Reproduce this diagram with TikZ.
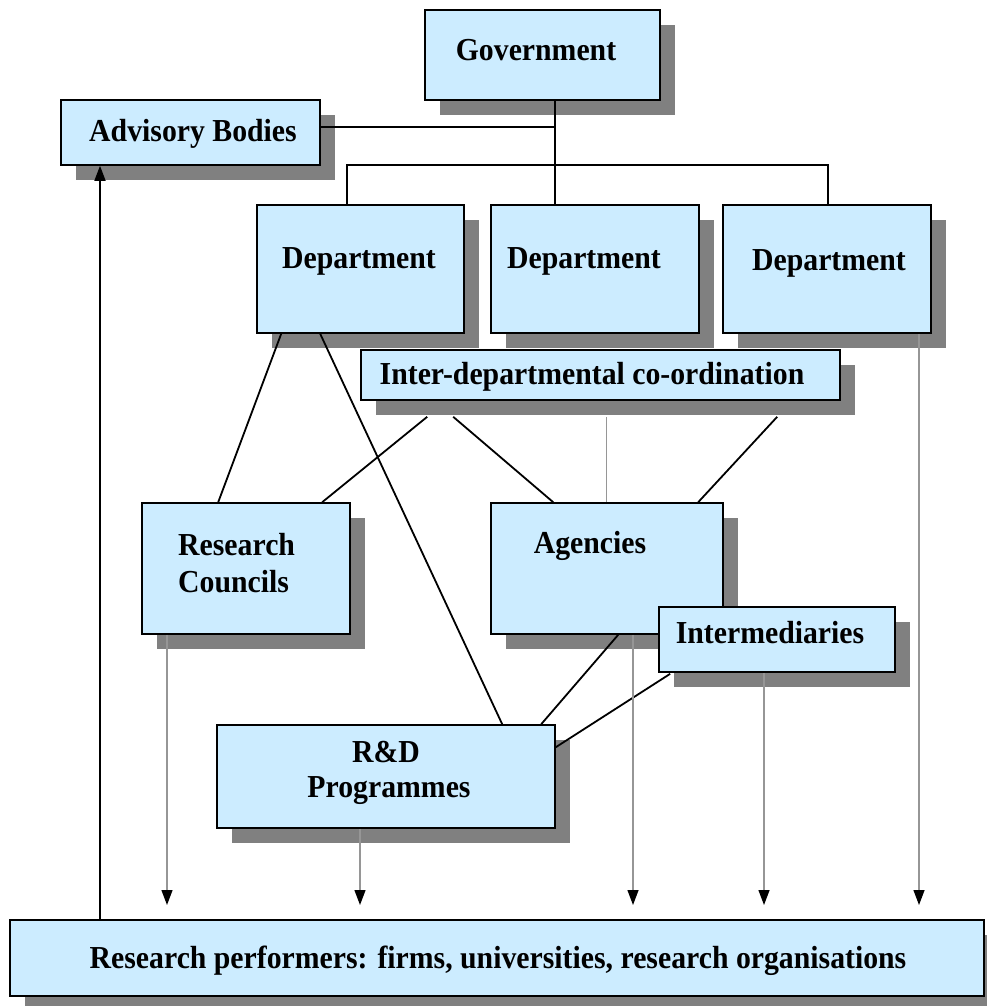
\documentclass[tikz,border=0pt]{standalone}
\usepackage{fontspec}
\setmainfont{Liberation Serif}[FakeStretch=0.93]
\usetikzlibrary{shadows,arrows.meta,calc}
\definecolor{boxblue}{RGB}{204,236,255}
\definecolor{shadowgray}{RGB}{128,128,128}
\definecolor{linegray}{RGB}{150,150,150}
\begin{document}
\begin{tikzpicture}[x=1pt,y=-1pt,
  box/.style={draw=black, line width=1.6pt, fill=boxblue, inner sep=0pt,
    drop shadow={shadow xshift=15pt,shadow yshift=-15pt,fill=shadowgray,opacity=1}},
  txt/.style={font=\fontsize{32}{36}\selectfont\bfseries, inner sep=0pt, anchor=base},
  conn/.style={line width=1.8pt, black},
  glink/.style={line width=1.4pt, linegray},
  flow/.style={line width=1.3pt, linegray, -{Triangle[length=15pt,width=11pt,color=black]}},
  upflow/.style={line width=1.6pt, black, -{Triangle[length=15pt,width=11pt,color=black]}}
]
\useasboundingbox (0,0) rectangle (986,1006);

% boxes
\node[box, minimum width=235pt, minimum height=90pt] (gov) at (542.5,55) {};
\node[box, minimum width=259pt, minimum height=65pt] (adv) at (190.5,132.5) {};
\node[box, minimum width=207pt, minimum height=128pt] (dl) at (360.5,269) {};
\node[box, minimum width=208pt, minimum height=128pt] (dm) at (595,269) {};
\node[box, minimum width=208pt, minimum height=128pt] (dr) at (827,269) {};
\node[box, minimum width=479pt, minimum height=50pt] (inter) at (600.5,375) {};
\node[box, minimum width=208pt, minimum height=131pt] (rc) at (246,568.5) {};
\node[box, minimum width=232pt, minimum height=131pt] (ag) at (607,568.5) {};
\node[box, minimum width=236pt, minimum height=65pt] (im) at (777,639.5) {};
\node[box, minimum width=338pt, minimum height=103pt] (rd) at (386,776.5) {};
\node[box, minimum width=974pt, minimum height=76pt] (rp) at (497,958) {};

% texts
\node[txt] (tgov) at (536,61) {Government};
\node[txt] (tadv) at (193,142) {Advisory Bodies};
\node[txt] (tdl) at (359,268) {Department};
\node[txt] (tdm) at (584,268) {Department};
\node[txt] (tdr) at (829,270) {Department};
\node[txt] (tinter) at (592,384) {Inter-departmental co-ordination};
\node[txt, anchor=base west] (trc1) at (178,555) {Research};
\node[txt, anchor=base west] (trc2) at (178,592) {Councils};
\node[txt] (tag) at (590,553) {Agencies};
\node[txt] (tim) at (770,643) {Intermediaries};
\node[txt] (trd1) at (386,762) {R\&D};
\node[txt] (trd2) at (389,797) {Programmes};
\node[txt] (trp) at (498,968) {Research performers: firms, universities, research organisations};

% tree lines from government
\coordinate (j1) at (555,127);
\coordinate (bl) at (347,165);
\coordinate (br) at (828,165);
\draw[conn] (adv.east |- j1) -- (j1);
\draw[conn] (gov.south -| j1) -- (dm.north -| j1);
\draw[conn] (bl |- dl.north) -- (bl) -- (br) -- (br |- dr.north);

% connectors
\draw[conn] ($(dl.south west)+(25,0)$) -- ($(rc.north west)+(77,0)$);
\draw[conn] ($(dl.south west)+(64,0)$) -- ($(rd.north west)+(286,0)$);
\draw[conn] ($(inter.south west)+(67,16)$) -- ($(rc.north west)+(181,0)$);
\draw[conn] ($(inter.south west)+(93,16)$) -- ($(ag.north west)+(63,0)$);
\draw[glink] ($(inter.south west)+(246,16)$) -- ($(ag.north west)+(116,0)$);
\draw[conn] ($(inter.south west)+(417,16)$) -- ($(ag.north west)+(208,0)$);
\draw[conn] ($(ag.south west)+(128,0)$) -- ($(rd.north west)+(325,0)$);
\draw[conn] ($(im.south west)+(12,1)$) -- ($(rd.north east)+(0,23)$);

% flows to research performers
\coordinate (e1) at (167,905);
\coordinate (e2) at (360,905);
\coordinate (e3) at (633,905);
\coordinate (e4) at (764,905);
\coordinate (e5) at (919,905);
\draw[flow] (rc.south -| e1) -- (e1);
\draw[flow] (rd.south -| e2) -- (e2);
\draw[flow] (ag.south -| e3) -- (e3);
\draw[flow] (im.south -| e4) -- (e4);
\draw[flow] (dr.south -| e5) -- (e5);

% feedback to advisory bodies
\coordinate (u) at (100,0);
\draw[upflow] (rp.north -| u) -- (adv.south -| u);
\end{tikzpicture}
\end{document}
